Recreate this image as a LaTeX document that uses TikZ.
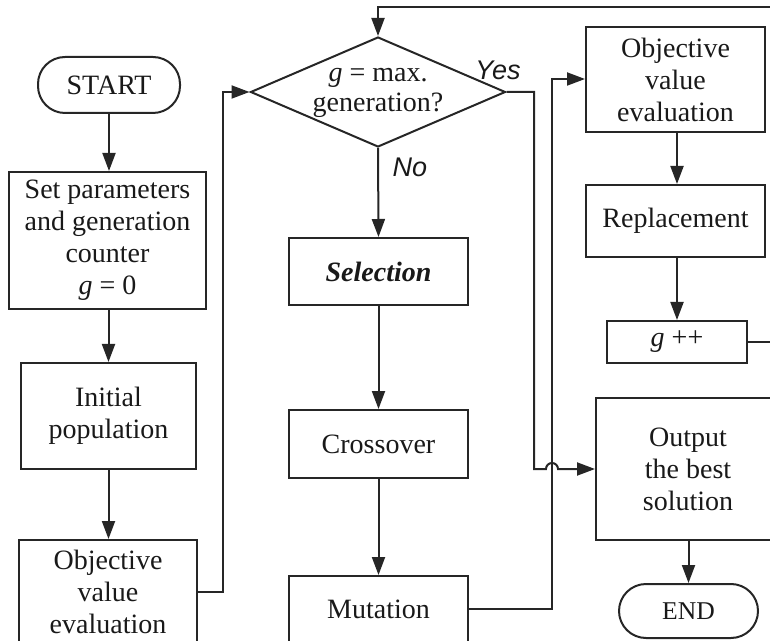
\documentclass[tikz,border=0pt]{standalone}
\usepackage{fontspec}
\setmainfont{Liberation Serif}
\newfontfamily\labelfont{Liberation Sans}
\usetikzlibrary{shapes.geometric,arrows.meta}

\begin{document}
\begin{tikzpicture}[x=0.5pt,y=-0.5pt,
  line width=1pt,
  color=black!85,
  wh/.style 2 args={minimum width=#1*0.5pt, minimum height=#2*0.5pt},
  box/.style={draw, rectangle, align=center, inner sep=0pt,
    text=black!90, font=\fontsize{14}{16}\selectfont},
  termbox/.style={box, rounded corners=13.5pt},
  decision/.style={draw, diamond, inner sep=0pt},
  arr/.style={-{Triangle[length=9pt,width=6.5pt]}},
  branch/.style={text=black!90, font=\labelfont\itshape\fontsize{13.5}{15}\selectfont},
]
\useasboundingbox (0,0) rectangle (770,641);
\clip (0,0) rectangle (770,641);

% left column
\node[termbox, wh={142}{56}] (start) at (109,85) {START};
\node[box, wh={197}{137}] (set) at (107.5,240.5)
  {Set parameters\\and generation\\counter\\\textit{g} = 0};
\node[box, wh={175}{106}] (init) at (108.5,416) {Initial\\population};
\node[box, wh={178}{104}] (objL) at (108,592) {Objective\\value\\evaluation};

% middle column
\node[decision, wh={255}{110}] (dec) at (378,92) {};
\node[align=center, text=black!90, font=\fontsize{14}{15}\selectfont, inner sep=0pt]
  (dectext) at (378,93) {\textit{g} = max.\\generation?};
\node[box, wh={179}{67}] (sel) at (378.5,271.5) {\textbf{\textit{Selection}}};
\node[box, wh={179}{68}] (cross) at (378.5,444) {Crossover};
\node[box, wh={179}{66}] (mut) at (378.5,609) {Mutation};

% right column
\node[box, wh={179}{105}] (objR) at (675.5,79.5) {Objective\\value\\evaluation};
\node[box, wh={179}{72}] (repl) at (675.5,221) {Replacement};
\node[box, wh={140}{42}] (gpp) at (677,342) {\textit{g} ++};
\node[box, wh={184}{142}] (out) at (688,469) {Output\\the best\\solution};
\node[termbox, font=\fontsize{12.8}{14}\selectfont, wh={139}{54}] (end) at (688.5,611) {END};

% branch labels
\node[branch] (yes) at (498,70) {Yes};
\node[branch] (no) at (410,167) {No};

% bend points of the routed connectors
\coordinate (la) at (223,92);
\coordinate (ma) at (552,79);
\coordinate (ya) at (534,92);
\coordinate (yb) at (534,469);
\coordinate (ga) at (785,342);
\coordinate (gb) at (785,7);
\coordinate (gc) at (378,7);

% straight flow
\draw[arr] (start.south) -- (start.south |- set.north);
\draw[arr] (init.north |- set.south) -- (init.north);
\draw[arr] (init.south) -- (init.south |- objL.north);
\draw[arr] (dec.south) -- (sel.north);
\draw[arr] (sel.south) -- (cross.north);
\draw[arr] (cross.south) -- (mut.north);
\draw[arr] (objR.south -| gpp.north) -- (repl.north -| gpp.north);
\draw[arr] (repl.south -| gpp.north) -- (gpp.north);
\draw[arr] (out.south -| end.north) -- (end.north);

% routed connectors
\draw[arr] (objL.east) -| (la) -- (dec.west);
\draw[arr] (mut.east) -| (ma) -- (objR.west |- ma);
\draw[arr] (dec.east) -- (ya) -- (yb) -- (546,469)
  arc[start angle=180, end angle=360, radius=6] -- (out.west);
\draw[arr] (gpp.east) -- (ga) -- (gb) -- (gc) -- (dec.north);
\end{tikzpicture}
\end{document}
